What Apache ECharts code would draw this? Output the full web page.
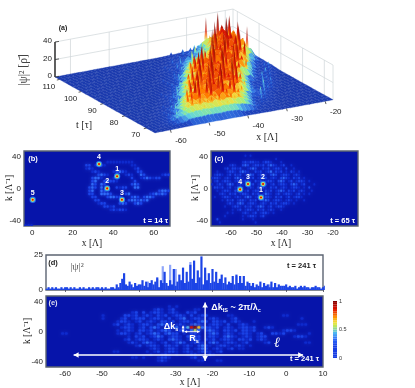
<!DOCTYPE html>
<html><head><meta charset="utf-8">
<style>html,body{margin:0;padding:0;background:#fff}#c{width:415px;height:388px;filter:blur(0.35px)}</style>
<script src="https://cdn.jsdelivr.net/npm/echarts@6/dist/echarts.min.js"></script>
</head><body><div id="c"></div>
<script>
// ---------- panel (a): surface heights, base-36 char per x column (x = -64 .. -18), rows at surfaceT
var surfaceT=[112,110,108,106,104,102,100,98,96,94,92,90,88,86,84,82,80,78,76,74,72,70,68,66];
var surfaceRows=[
"010010100101001001010010100101312424653tc2wk7ra",
"01010010010100100101001010012131524 63a4d3xm6sb4".replace(' ',''),
"0100101001001010010100101001324313a4695ug8wn3qd",
"00101001010010010100101002142535a34b37sf3xj9pb1",
"1001010010100100101001013124634a35b63tg7vm4rc52",
"010100101001001010010101325356a4bc4wf8sk3ng6t74",
"00101001010010100100102132647ac5hc8uk4ph7te3536",
"101001010010100100101124353cf6oj3vd9qg5sm8a6321",
"01001010010100100103124638ek5tc4rh7wf9nbp742135",
"010100101001001010132364bh6qd8uj3pg5sk9e5312452",
"001010010100100102142537fn4rc9vg6mh3ti864213421",
"1001010010100101123474ad5pj7sf4wk8qc6h741263210",
"010100101001003123639gm3tc6rh8uf5oj75321634201",
"00101001010011324748ek6qd4vj7sg3nb96421543101",
"100101001010213565ch5pf8tk3rm6wd7a5312635201001",
"010100101001243647gk4sc9uf5nj3ph864317342010010",
"0010100101312475ae6qg3tk8rd5vm9c753264310010100",
"010010102135638hn4pc7sj5uf3mg965427531100101001",
"0100101132474bf6rk5qd8tg4nj7e853164210010100101",
"1001012143659gj7mc8pe6qh5lf97432531210010100100",
"01010123474abfcgbdfcgbefcda86423211010010100101",
"001021356689a89b9a89ab9a877543221110010100101010",
"010112344556566765676655443322111010100101001010",
"01101011011101011101101011011101011101101011011"];
var xTicks3d=[-60,-50,-40,-30,-20];
var tTicks3d=[70,80,90,100,110];
var zTicks3d=[0,20,40];

// ---------- panels (b),(c),(e): k-x intensity, digit per cell (0..9 of the peak value); rows top to bottom
var rowsB=[
"","","",
"...........................111111111",
"....................22.1221........11",
"....................121.............12",
"......................121....12321...22",
"........................2321.....121..32.....1221",
"......................2331...12....2..1232122",
"......................23..23221.....2",
"......................32.32........232",
".....................232.3....2122..33",
".....................23..32.....2...........23322",
".....................22..3332....23......123232",
"......................22...23322...232.2332",
".......................22.........2332323",
"........................122....232..232",
"..........................2212",
"............................121221",
"","","","",
"111"];
var rowsC=[
"",
".............1.1",
".........................1",
"............1212211.1221...1",
".......121..232.12212.2321.12..1",
".....12.2212..1232..212.1221.2..1",
"..1...1221.2321..212.123.212.1.21.1",
".1221.12.212.1232.1221.232.1221.121",
"1221.121.2321.212.1232.121.2321.212.1",
".12.1221.12.1221.212.1221.232.12.1221.1",
"1.121.232.121.212.1232.12.1221.232.12...1",
".2212.12.1221.121.2321.212.121.1221.1.2",
"..1.1221.232.12.1221.212.1232.212.121..1",
"...121.212.1221.212.1321.12.1221.12.1.1",
".1..1221.121.232.12.1221.212.12.1221",
"....1.212.1221.212.1232.1221.121.1..1",
"......121.232.1221.121.212.1221.1",
".....1..1221.212.1232.12.1221",
"........1.12.1221.212.121..1",
"......1.1...121.12.1221.1",
".....1......1.1221.12",
"..2.........1...1",
"...1.............1",
""];
var rowsE=[
"","","",
".................................1.1",
".............................121.12.....11",
".......................12.2.1221.121..212",
"...............1.....2212.121.212.1221.2.122.....11.............11",
"...............1....12.1222.1221.2.123.1221.121...12.................1",
"...................1221.12.121.2212.1221.232.2212.121...1",
"..................12.121.1221.2322.121.2321.1221.2..121.............111",
"....................1221.12.232.122312489632212.121.12212..121",
"...................1.121.2212.1232.1221353.2321.2212.2212.......1221",
"....11.............1221.12.1232.2322.1.221.1232.121.1221.12..2212......1",
"......................1.212.1232.1221.2322.1221.2321.121.122.......1221",
".....................12.1221.121.2321.1232.212.1221.2212.121",
"......................121.2321.12.1232.1221.232.1221.12....12.........11",
"........................12.1221.2212.121.2321.1221.121.1",
"............................121.1221.12.1232.121.12.11",
"..................11.......1.12.1221.121.1221.12",
"............................1..121.1..1221.121",
".......................11.1...1221.....12.1",
"..............................121........11...11",
"","" ];
// bright solitons: x, k, label
var spotsB=[[41.9,15.6,"1"],[37,0.4,"2"],[44.3,-14,"3"],[33,31,"4"],[0.3,-14,"5"]];
var spotsC=[[-48.2,-11,"1"],[-47.4,6,"2"],[-53.3,6,"3"],[-56.4,-0.9,"4"]];
var xTicksB=[0,20,40,60];
var xTicksC=[-60,-50,-40,-30,-20];
var xTicksE=[-60,-50,-40,-30,-20,-10,0,10];
var kTicks=[-40,0,40];
var levels=[0,.04,.08,.12,.16,.2,.24,.28,.32,.36,.4,.44,.48,.52,.56,.6,.64,.68,.72,.76,.8,.84,.88,.92,.96,1];

// ---------- panel (d): |psi|^2 cut, base-36 char per half unit of x starting at -65
var cutDark="121212112122121211212112121221212112"+"214258c43642534"+"4736257469275d5374f3"+"6b7g5d6i8l5e9o4g7c5f"+"6d58b59465a4b5a5a365"+"35243625342625243334"+"232231232322122322123";
var cutLightX=[-37.5,-35,-33.5,-31.5,-30,-26,-22,-18,-13.5,-4.5];
var cutLightV=[6,8,17,18,15,20,12,7,10,4];

// arrows on panel (e): x1,k1,x2,k2
var arrowsE=[[4.6,-31,-57.7,-31],[-22,39,-22,-39],[-27.6,0,-23.5,0],[-28,8,-28,-1]];

// ---------- helpers
var SANS='"Liberation Sans",Arial,sans-serif', SERIF='"Liberation Serif",serif';
function ramp(stops,v){v=Math.max(0,Math.min(1,v));var i=1;while(i<stops.length-1&&stops[i][0]<v)i++;
 var a=stops[i-1],b=stops[i],f=(v-a[0])/(b[0]-a[0]||1),o=[0,1,2].map(function(n){return Math.round(a[1][n]+(b[1][n]-a[1][n])*f)});
 return 'rgb('+o.join(',')+')';}
var heatStops=[[0,[6,20,170]],[.11,[14,42,205]],[.22,[26,66,232]],[.33,[46,106,250]],[.45,[80,190,240]],[.55,[180,230,100]],[.62,[240,232,60]],[.72,[255,144,0]],[.86,[224,16,0]],[1,[128,0,0]]];
var surfStops=[[0,[28,58,172]],[.05,[32,74,200]],[.1,[58,128,232]],[.16,[96,212,224]],[.22,[160,240,128]],[.3,[240,224,64]],[.38,[255,128,0]],[.5,[224,24,8]],[.75,[150,12,0]],[1,[96,0,0]]];
function heat(v){return ramp(heatStops,v);}

// projection of panel (a): floor corner at x=-64,t=66 on the hidden plane
function proj(x,t,z){return [155+(x+64)*3.87-(t-66)*2.174, 133-(x+64)*0.717-(t-66)*1.217-z*0.875];}

function h(r,i){var s=surfaceRows[r];if(!s||i<0||i>=s.length)return 0;return (parseInt(s[i],36)||0)*1.25;}
// the neighbourhood mean carries the sheet; a node rising above it stands as a thin spike
function low(r,i){var m=h(r,i),c=1;[[r,i-1],[r,i+1],[r-1,i],[r+1,i]].forEach(function(n){m+=h(n[0],n[1]);c++;});m/=c;return m*(m<6?.35:.78);}
var sheet=[];
for(var r=0;r<surfaceT.length-1;r++){for(var i=45;i>=0;i--){
  sheet.push([0,-64+i,surfaceT[r],surfaceT[r+1],low(r,i),low(r,i+1),low(r+1,i),low(r+1,i+1)]);
  if(h(r,i)>=3.75)sheet.push([1,-64+i,surfaceT[r],0,low(r,i),Math.max(h(r,i),low(r,i)),0,0]);
}}
var wall=[];
zTicks3d.slice(1).forEach(function(z){wall.push([-64,112,z,-18,112,z]);wall.push([-18,112,z,-18,66,z]);});
[-60,-50,-40,-30,-20].forEach(function(x){wall.push([x,112,0,x,112,40]);});
[70,80,90,100,110].forEach(function(t){wall.push([-18,t,0,-18,t,40]);});
wall.push([-18,112,0,-18,112,40]);wall.push([-18,66,0,-18,66,40]);

function cells(rows,x0,dx,k0,dk){var out=[];rows.forEach(function(s,rw){for(var c=0;c<s.length;c++){var v=parseInt(s[c],10);if(v>0)out.push([x0+(c+.5)*dx,k0-(rw+.5)*dk,v/9,dx,dk]);}});return out;}
function cellSeries(idx,data){return {type:'custom',xAxisIndex:idx,yAxisIndex:idx,data:data,clip:true,silent:true,progressive:0,
 renderItem:function(p,api){var c=api.coord([api.value(0),api.value(1)]),s=api.size([api.value(3),api.value(4)]),col=heat(api.value(2));
  return {type:'rect',shape:{x:c[0]-s[0]/2+.3,y:c[1]-s[1]/2+.3,width:s[0]-.6,height:s[1]-.6,r:1},style:{fill:col,shadowBlur:3,shadowColor:col}};}};}
function spotSeries(idx,spots){return {type:'custom',xAxisIndex:idx,yAxisIndex:idx,data:spots.map(function(s){return [s[0],s[1]];}),silent:true,progressive:0,z:5,
 renderItem:function(p,api){var c=api.coord([api.value(0),api.value(1)]);
  function d(r,f){return {type:'circle',shape:{cx:c[0],cy:c[1],r:r},style:{fill:f}};}
  return {type:'group',children:[d(3.2,'#2a6cf0'),d(2.3,'#50d0c8'),d(1.7,'#f0e040'),d(1.05,'#e01000'),
   {type:'text',style:{text:spots[p.dataIndex][2],x:c[0],y:c[1]-7,fill:'#fff',font:'bold 7px '+SANS,align:'center',verticalAlign:'middle'}}]};}};}

function planeText(data,fn){return {type:'custom',xAxisIndex:0,yAxisIndex:0,data:data,silent:true,progressive:0,z:6,renderItem:fn};}

var axisBase=function(idx,min,max,ticks,extra){return Object.assign({type:'value',gridIndex:idx,min:min,max:max,splitLine:{show:false},
 axisLine:{show:false},axisTick:{show:false},
 axisLabel:{fontFamily:SANS,fontSize:8,color:'#222',margin:3,customValues:ticks,hideOverlap:false}},extra||{});};
function kAxis(idx){return axisBase(idx,-47,47.5,kTicks);}
var frame={show:true,borderColor:'#5c6472',borderWidth:1.4,backgroundColor:heat(0)};

function txt(x,y,text,o){o=o||{};return {type:'text',z:100,x:x,y:y,rotation:o.rot||0,silent:true,style:{text:text,fill:o.fill||'#fff',font:(o.w||'')+' '+(o.s||7.5)+'px '+(o.f||SANS),align:o.a||'center',verticalAlign:'middle',rich:o.rich}};}
var whiteRich={a:{fill:'#fff',font:'bold 9px '+SANS},b:{fill:'#fff',font:'bold 5.5px '+SANS,verticalAlign:'bottom',padding:[5,0,0,0]}};

var option={animation:false,backgroundColor:'#fff',
 grid:[
  {left:0,top:0,width:415,height:388,show:false},
  Object.assign({left:24,top:151,width:146,height:75},frame),
  Object.assign({left:211,top:151,width:147,height:75},frame),
  {left:46,top:255,width:277,height:35,show:true,borderColor:'#5c6472',borderWidth:1.4,backgroundColor:'#fff'},
  Object.assign({left:46,top:296,width:277,height:71},frame),
  {left:333,top:301,width:4,height:57,show:false}
 ],
 xAxis:[
  {type:'value',gridIndex:0,min:0,max:415,show:false},
  axisBase(1,-4,68,xTicksB),
  axisBase(2,-67.8,-10.2,xTicksC),
  axisBase(3,-65.2,10,xTicksE,{position:'top',axisLabel:{show:false},axisTick:{show:true,inside:true,length:2,lineStyle:{color:'#445',width:.8},customValues:xTicksE}}),
  axisBase(4,-65.2,10,xTicksE),
  {type:'value',gridIndex:5,min:0,max:1,show:false}
 ],
 yAxis:[
  {type:'value',gridIndex:0,min:0,max:388,inverse:true,show:false},
  kAxis(1),
  kAxis(2),
  axisBase(3,0,25,[0,25]),
  kAxis(4),
  {type:'value',gridIndex:5,min:0,max:1,position:'right',axisLine:{show:false},axisTick:{show:false},splitLine:{show:false},
   axisLabel:{fontFamily:SANS,fontSize:5.5,color:'#333',margin:2,customValues:[0,.5,1],formatter:function(v){return String(v);}}}
 ],
 series:[
  // walls
  {type:'custom',xAxisIndex:0,yAxisIndex:0,data:wall,silent:true,progressive:0,z:1,
   renderItem:function(p,api){var a=proj(api.value(0),api.value(1),api.value(2)),b=proj(api.value(3),api.value(4),api.value(5));
    a=api.coord(a);b=api.coord(b);return {type:'line',shape:{x1:a[0],y1:a[1],x2:b[0],y2:b[1]},style:{stroke:'#cfd6d8',lineWidth:.7}};}},
  // surface: sheet quads and spikes, back to front
  {type:'custom',xAxisIndex:0,yAxisIndex:0,data:sheet,silent:true,progressive:0,z:2,
   renderItem:function(p,api){var kind=api.value(0),x=api.value(1);
    if(kind===1){var t=api.value(2),z0=api.value(4),z1=api.value(5),b=api.coord(proj(x,t,z0)),a=api.coord(proj(x,t,z1));
     var stops=[],n=5;for(var q=0;q<=n;q++){stops.push({offset:q/n,color:ramp(surfStops,(z1+(z0-z1)*q/n)/40)});}
     return {type:'polygon',shape:{points:[a,[b[0]+1.6,b[1]+.5],[b[0]-1.6,b[1]+.5]]},
      style:{opacity:z1>34?.7:1,fill:{type:'linear',x:0,y:0,x2:0,y2:1,colorStops:stops}}};}
    var t1=api.value(2),t2=api.value(3),z=[api.value(4),api.value(5),api.value(6),api.value(7)];
    var pts=[[x,t1,z[0]],[x+1,t1,z[1]],[x+1,t2,z[3]],[x,t2,z[2]]].map(function(q){return api.coord(proj(q[0],q[1],q[2]));});
    var col=ramp(surfStops,(z[0]+z[1]+z[2]+z[3])/160);
    return {type:'polygon',shape:{points:pts},style:{fill:col,stroke:col,lineWidth:.3}};}},
  // z axis of (a)
  planeText(zTicks3d,function(p,api){var z=api.value(0),a=api.coord(proj(-64,112,z)),bot=api.coord(proj(-64,112,0)),top=api.coord(proj(-64,112,40));
    return {type:'group',children:[{type:'line',shape:{x1:bot[0],y1:bot[1],x2:top[0],y2:top[1]},style:{stroke:'#333',lineWidth:.8}},
     {type:'line',shape:{x1:a[0],y1:a[1],x2:a[0]+4,y2:a[1]-.6},style:{stroke:'#333',lineWidth:.8}},
     {type:'text',style:{text:String(z),x:a[0]-3,y:a[1]-1,fill:'#222',font:'8px '+SANS,align:'right',verticalAlign:'middle'}}]};}),
  // x ticks of (a)
  planeText(xTicks3d,function(p,api){var x=api.value(0),a=api.coord(proj(x,66,0));
    return {type:'group',children:[{type:'line',shape:{x1:a[0],y1:a[1],x2:a[0]+.7,y2:a[1]+2.6},style:{stroke:'#333',lineWidth:.8}},
     {type:'text',style:{text:String(x),x:a[0]+10.5,y:a[1]+10.5,fill:'#222',font:'8px '+SANS,align:'center',verticalAlign:'middle'}}]};}),
  // t ticks of (a)
  planeText(tTicks3d,function(p,api){var t=api.value(0),a=api.coord(proj(-64,t,0));
    return {type:'group',children:[{type:'line',shape:{x1:a[0],y1:a[1],x2:a[0]-2.5,y2:a[1]+.6},style:{stroke:'#333',lineWidth:.8}},
     {type:'text',style:{text:String(t),x:a[0]-10.5,y:a[1]+7,fill:'#222',font:'8px '+SANS,align:'center',verticalAlign:'middle'}}]};}),
  // heat panels
  cellSeries(1,cells(rowsB,-4,1.5,47.5,4)),
  spotSeries(1,spotsB),
  cellSeries(2,cells(rowsC,-67.8,1,47.5,4)),
  spotSeries(2,spotsC),
  {type:'bar',xAxisIndex:3,yAxisIndex:3,data:cutLightX.map(function(x,n){return [x,cutLightV[n]];}),barWidth:2.2,itemStyle:{color:'#8fa6fa'},silent:true,barGap:'-100%'},
  {type:'bar',xAxisIndex:3,yAxisIndex:3,data:cutDark.split('').map(function(c,n){return [-65+n/2,parseInt(c,36)];}),barWidth:2.2,itemStyle:{color:'#1c44e6'},silent:true,barGap:'-100%'},
  cellSeries(4,cells(rowsE,-65.2,1,47.5,4)),
  {type:'custom',xAxisIndex:4,yAxisIndex:4,data:arrowsE,silent:true,progressive:0,z:6,
   renderItem:function(p,api){var a=api.coord([api.value(0),api.value(1)]),b=api.coord([api.value(2),api.value(3)]);
    function head(q,o,sz){var d=Math.atan2(q[1]-o[1],q[0]-o[0]),w=sz*.55;
     return {type:'polygon',shape:{points:[q,[q[0]-sz*Math.cos(d)-w*Math.sin(d),q[1]-sz*Math.sin(d)+w*Math.cos(d)],[q[0]-sz*Math.cos(d)+w*Math.sin(d),q[1]-sz*Math.sin(d)-w*Math.cos(d)]]},style:{fill:'#fff'}};}
    var len=Math.hypot(a[0]-b[0],a[1]-b[1]),sz=len>30?5:2.6,kids=[{type:'line',shape:{x1:a[0],y1:a[1],x2:b[0],y2:b[1]},style:{stroke:'#fff',lineWidth:len>30?1.3:.9}}];
    kids.push(head(b,a,sz));kids.push(head(a,b,sz));
    return {type:'group',children:kids};}},
  // colour bar
  {type:'custom',xAxisIndex:5,yAxisIndex:5,data:levels.map(function(v){return [.5,v];}),silent:true,progressive:0,
   renderItem:function(p,api){var v=api.value(1),a=api.coord([0,Math.max(v-.02,0)]),b=api.coord([1,Math.min(v+.02,1)]);v=Math.max(v,.2);
    return {type:'rect',shape:{x:a[0],y:b[1],width:b[0]-a[0],height:a[1]-b[1]},style:{fill:heat(v)}};}}
 ],
 graphic:[
  txt(63,28,'(a)',{fill:'#222',w:'bold',s:7}),
  txt(24,70,'|ψ|² [ρ̄]',{fill:'#444',s:11.5,f:SERIF,rot:Math.PI/2}),
  txt(84,125,'t [τ]',{fill:'#222',s:10,f:SERIF}),
  txt(267,137,'x [Λ]',{fill:'#222',s:10,f:SERIF}),
  txt(92,243,'x [Λ]',{fill:'#222',s:9.5,f:SERIF}),
  txt(281,243,'x [Λ]',{fill:'#222',s:9.5,f:SERIF}),
  txt(190,382,'x [Λ]',{fill:'#222',s:9.5,f:SERIF}),
  txt(9,188,'k [Λ⁻¹]',{fill:'#222',s:9.5,f:SERIF,rot:Math.PI/2}),
  txt(195,188,'k [Λ⁻¹]',{fill:'#222',s:9.5,f:SERIF,rot:Math.PI/2}),
  txt(27,331,'k [Λ⁻¹]',{fill:'#222',s:9.5,f:SERIF,rot:Math.PI/2}),
  txt(33,159,'(b)',{w:'bold',s:7.5}),
  txt(168,221,'t = 14 τ',{w:'bold',a:'right',s:7.5}),
  txt(219,159,'(c)',{w:'bold',s:7.5}),
  txt(355,221,'t = 65 τ',{w:'bold',a:'right',s:7.5}),
  txt(53,263,'(d)',{fill:'#222',w:'bold',s:7.5}),
  txt(77,267,'|ψ|²',{fill:'#555',s:10,f:SERIF}),
  txt(316,266,'t = 241 τ',{fill:'#222',w:'bold',a:'right',s:7.5}),
  txt(53,303,'(e)',{fill:'#dde',w:'bold',s:7.5}),
  txt(171,327,'{a|Δk}{b|s}',{rich:whiteRich}),
  txt(194,339,'{a|R}{b|s}',{rich:whiteRich}),
  txt(236,308,'{a|Δk}{b|IS}{a| ~ 2π/λ}{b|c}',{rich:whiteRich}),
  txt(319,359,'t = 241 τ',{w:'bold',a:'right',s:7.5}),
  txt(277,343,'ℓ',{s:14,w:'italic',f:'"DejaVu Serif",serif'})
 ]
};
echarts.init(document.getElementById('c'),null,{renderer:'canvas'}).setOption(option);
</script></body></html>
